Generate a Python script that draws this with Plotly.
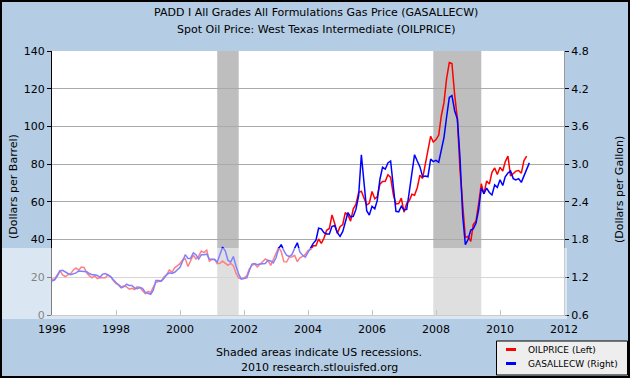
import plotly.graph_objects as go

oil_price = [
    18.9, 19.1, 21.3, 23.5, 21.2, 20.4, 21.3, 21.9, 23.9, 24.9, 23.7, 25.4,
    25.2, 22.2, 20.9, 19.7, 20.8, 19.3, 19.7, 19.9, 19.8, 21.3, 20.2, 18.3,
    16.7, 16.1, 15.0, 15.4, 14.9, 13.7, 14.2, 13.5, 15.0, 14.4, 12.9, 11.3,
    12.5, 12.0, 14.7, 17.3, 17.8, 17.9, 20.1, 21.3, 23.9, 22.6, 25.0, 26.1,
    27.2, 29.4, 29.9, 25.7, 28.8, 31.8, 29.7, 31.3, 33.9, 33.1, 34.4, 28.5,
    29.6, 29.6, 27.2, 27.4, 28.6, 27.6, 26.4, 27.4, 26.2, 22.2, 19.6, 19.3,
    19.7, 20.7, 24.4, 26.3, 27.0, 25.5, 26.9, 28.4, 29.7, 28.9, 26.3, 29.4,
    32.9, 35.9, 33.6, 28.3, 28.1, 30.7, 30.8, 31.6, 28.3, 30.3, 31.1, 32.1,
    34.3, 34.7, 36.7, 36.7, 40.3, 38.0, 40.7, 44.9, 45.9, 53.1, 48.5, 43.3,
    46.8, 48.0, 54.3, 53.0, 49.8, 56.3, 58.7, 65.0, 65.6, 62.4, 58.3, 59.4,
    65.5, 61.6, 62.7, 69.4, 70.8, 70.9, 74.4, 73.0, 63.8, 58.9, 59.1, 62.0,
    54.5, 59.3, 60.4, 64.0, 63.5, 67.5, 74.1, 72.4, 79.9, 85.8, 94.8, 91.7,
    93.0, 95.4, 105.5, 112.6, 125.4, 133.9, 133.4, 116.7, 104.1, 76.6, 57.3, 41.1,
    41.7, 39.1, 47.9, 49.7, 59.0, 69.6, 64.2, 71.1, 69.4, 75.7, 78.0, 74.5,
    78.3, 76.4, 81.2, 84.3, 73.7, 75.3, 76.3, 76.6, 75.2, 81.9, 84.3,
]

gas_price = [
    1.14, 1.16, 1.22, 1.30, 1.31, 1.28, 1.26, 1.24, 1.25, 1.27, 1.30, 1.30,
    1.29, 1.29, 1.26, 1.24, 1.24, 1.23, 1.20, 1.25, 1.26, 1.23, 1.21, 1.16,
    1.11, 1.06, 1.03, 1.05, 1.09, 1.07, 1.07, 1.03, 1.02, 1.04, 1.02, 0.96,
    0.95, 0.93, 0.99, 1.15, 1.15, 1.14, 1.18, 1.24, 1.27, 1.26, 1.28, 1.32,
    1.36, 1.46, 1.56, 1.50, 1.50, 1.59, 1.56, 1.49, 1.56, 1.56, 1.57, 1.49,
    1.48, 1.48, 1.44, 1.55, 1.68, 1.62, 1.47, 1.44, 1.53, 1.38, 1.25, 1.17,
    1.18, 1.19, 1.30, 1.41, 1.42, 1.40, 1.41, 1.42, 1.42, 1.47, 1.46, 1.43,
    1.51, 1.66, 1.72, 1.62, 1.55, 1.53, 1.56, 1.66, 1.75, 1.60, 1.55, 1.52,
    1.60, 1.68, 1.74, 1.79, 1.98, 1.97, 1.91, 1.89, 1.89, 2.01, 2.02, 1.91,
    1.85, 1.93, 2.07, 2.23, 2.16, 2.17, 2.28, 2.50, 3.15, 2.70, 2.26, 2.19,
    2.33, 2.29, 2.42, 2.76, 2.95, 2.92, 3.02, 3.05, 2.58, 2.25, 2.24, 2.33,
    2.27, 2.28, 2.55, 2.85, 3.15, 3.05, 2.96, 2.80, 2.81, 2.80, 3.08, 3.04,
    3.06, 3.03, 3.22, 3.42, 3.75, 4.06, 4.09, 3.85, 3.72, 3.10, 2.17, 1.72,
    1.80, 1.95, 1.97, 2.06, 2.27, 2.62, 2.53, 2.62, 2.55, 2.51, 2.67, 2.63,
    2.75, 2.66, 2.80, 2.86, 2.89, 2.77, 2.75, 2.77, 2.71, 2.81, 2.89, 3.02,
]

oil_dates = [f"{1996 + i // 12}-{i % 12 + 1:02d}-01" for i in range(len(oil_price))]
gas_dates = [f"{1996 + i // 12}-{i % 12 + 1:02d}-01" for i in range(len(gas_price))]

series_names = ["OILPRICE (Left)", "GASALLECW (Right)"]
series_colors = ["#FF0000", "#0000FF"]
recessions = [("2001-03-01", "2001-11-01"), ("2007-12-01", "2009-06-01")]
x_ticks = [f"{y}-01-01" for y in range(1996, 2013, 2)]
x_tick_text = [str(y) for y in range(1996, 2013, 2)]
left_ticks = [0, 20, 40, 60, 80, 100, 120, 140]
right_ticks = [0.6, 1.2, 1.8, 2.4, 3.0, 3.6, 4.2, 4.8]
right_tick_text = ["0.6", "1.2", "1.8", "2.4", "3.0", "3.6", "4.2", "4.8"]

FONT = "DejaVu Sans"
BG = "#B4CCE4"
W, H = 630, 378
L, R, T, B = 52, 564, 51, 315
PW, PH = R - L, B - T


def px(xp):
    return (xp - L) / PW


def py(yp):
    return (B - yp) / PH


fig = go.Figure()
fig.add_trace(go.Scatter(x=oil_dates, y=oil_price, mode="lines", name=series_names[0],
                         line=dict(color=series_colors[0], width=1.5), yaxis="y"))
fig.add_trace(go.Scatter(x=gas_dates, y=gas_price, mode="lines", name=series_names[1],
                         line=dict(color=series_colors[1], width=1.5), yaxis="y2"))

shapes = []
for a, b in recessions:
    shapes.append(dict(type="rect", xref="x", yref="paper", x0=a, x1=b, y0=0, y1=1,
                       fillcolor="#BEBEBE", line=dict(width=0), layer="below"))
# watermark band (semi-transparent white)
shapes.append(dict(type="rect", xref="paper", yref="paper",
                   x0=px(0), x1=px(567), y0=py(319), y1=py(248),
                   fillcolor="rgba(255,255,255,0.5)", line=dict(width=0), layer="above"))
# outer border
shapes.append(dict(type="rect", xref="paper", yref="paper",
                   x0=px(1), x1=px(629), y0=py(377), y1=py(1),
                   fillcolor="rgba(0,0,0,0)", line=dict(color="black", width=2), layer="above"))
# legend box
shapes.append(dict(type="rect", xref="paper", yref="paper",
                   x0=px(496.5), x1=px(627.5), y0=py(375), y1=py(341),
                   fillcolor="#EEEEEE", line=dict(color="black", width=1), layer="above"))

ann = [
    dict(text="PADD I All Grades All Formulations Gas Price (GASALLECW)", x=px(316), y=py(13)),
    dict(text="Spot Oil Price: West Texas Intermediate (OILPRICE)", x=px(316), y=py(29)),
    dict(text="Shaded areas indicate US recessions.", x=px(319), y=py(352)),
    dict(text="2010 research.stlouisfed.org", x=px(319), y=py(367)),
    dict(text="(Dollars per Barrel)", x=px(13), y=py(187), textangle=-90),
    dict(text="(Dollars per Gallon)", x=px(619), y=py(190), textangle=-90),
]
legend_rows = [349.5, 363.5]
for name, color, yy in zip(series_names, series_colors, legend_rows):
    shapes.append(dict(type="line", xref="paper", yref="paper", x0=px(506), x1=px(516),
                       y0=py(yy), y1=py(yy), line=dict(color=color, width=3), layer="above"))
    ann.append(dict(text=name, x=px(526), y=py(yy), xanchor="left", font=dict(family=FONT, size=9, color="black")))

annotations = []
for a in ann:
    d = dict(xref="paper", yref="paper", xanchor="center", yanchor="middle", showarrow=False,
             font=dict(family=FONT, size=11, color="black"))
    d.update(a)
    annotations.append(d)

fig.update_layout(
    width=W, height=H,
    margin=dict(l=L, r=W - R, t=T, b=H - B, autoexpand=False),
    paper_bgcolor=BG, plot_bgcolor="white",
    font=dict(family=FONT, size=11, color="black"),
    showlegend=False,
    xaxis=dict(type="date", range=["1996-01-01", "2012-01-01"], tickvals=x_ticks, ticktext=x_tick_text,
               ticks="inside", ticklen=5, tickcolor="#888888", showgrid=False, showline=True,
               linecolor="#999999", linewidth=1, tickfont=dict(size=11), zeroline=False, automargin=False,
               ticklabelstandoff=4),
    yaxis=dict(range=[0, 140], tickvals=left_ticks, ticks="outside", ticklen=4, tickcolor="black",
               showline=True, linecolor="black", linewidth=1, gridcolor="#AAAAAA", gridwidth=1,
               zeroline=False, automargin=False),
    yaxis2=dict(range=[0.6, 4.8], tickvals=right_ticks, ticktext=right_tick_text, overlaying="y", side="right",
                ticks="outside", ticklen=4, tickcolor="black", showline=True, linecolor="#999999",
                showgrid=False, zeroline=False, automargin=False),
    shapes=shapes,
    annotations=annotations,
)

fig.write_html("out.html", config={"displayModeBar": False},
               post_script="document.body.style.margin='0';document.body.style.padding='0';")
